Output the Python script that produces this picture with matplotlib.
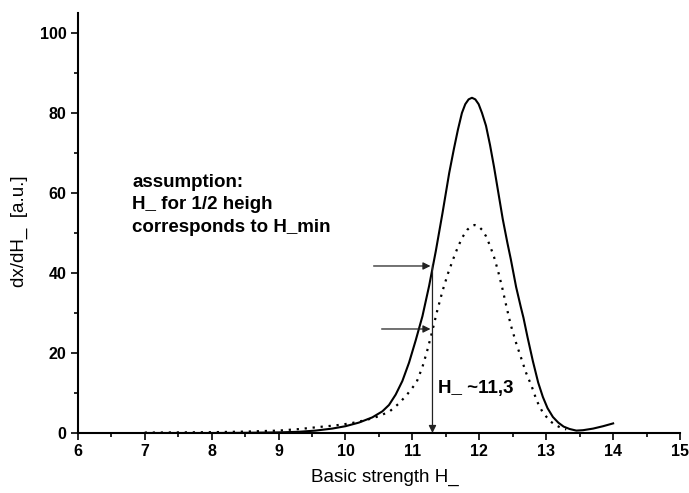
import matplotlib
matplotlib.use("Agg")
import matplotlib.pyplot as plt
from matplotlib.ticker import MultipleLocator

plt.rcParams['font.family'] = ['Liberation Sans', 'DejaVu Sans']

# solid curve
solid_x = [7.0, 8.0, 8.5, 9.0, 9.3, 9.55, 9.8, 10.0, 10.2, 10.4, 10.55, 10.65,
           10.75, 10.85, 10.95, 11.05, 11.15, 11.25, 11.35, 11.45, 11.55, 11.62,
           11.68, 11.74, 11.79, 11.84, 11.89, 11.94, 11.99, 12.04, 12.1, 12.16,
           12.22, 12.28, 12.35, 12.42, 12.47, 12.55, 12.62, 12.66, 12.72, 12.8,
           12.88, 12.95, 13.02, 13.1, 13.18, 13.26, 13.35, 13.45, 13.55, 13.7,
           13.85, 14.0]
solid_y = [0.0, 0.0, 0.05, 0.15, 0.3, 0.6, 1.1, 1.7, 2.6, 3.9, 5.4, 7.0,
           9.6, 13.0, 17.6, 23.2, 29.2, 36.8, 45.5, 55.0, 65.0, 71.0,
           75.8, 80.0, 82.2, 83.4, 83.8, 83.4, 82.2, 80.0, 76.8, 72.0,
           66.5, 60.5, 53.5, 47.5, 43.5, 36.5, 31.5, 28.8, 24.0, 18.0,
           12.6, 9.0, 6.2, 4.0, 2.6, 1.6, 1.0, 0.6, 0.7, 1.1,
           1.7, 2.4]

# dotted curve
dot_x = [7.0, 7.5, 8.0, 8.5, 9.0, 9.32, 9.6, 9.85, 10.07, 10.3, 10.5, 10.66,
         10.8, 10.92, 11.06, 11.15, 11.22, 11.29, 11.37, 11.45, 11.53, 11.61,
         11.68, 11.75, 11.82, 11.88, 11.93, 11.98, 12.04, 12.1, 12.16, 12.22,
         12.28, 12.34, 12.4, 12.47, 12.55, 12.63, 12.7, 12.78, 12.86, 12.94,
         13.0, 13.07, 13.15, 13.22, 13.3]
dot_y = [0.1, 0.15, 0.2, 0.35, 0.6, 1.0, 1.5, 1.9, 2.4, 3.2, 4.2, 5.4,
         7.4, 9.6, 12.6, 16.5, 20.5, 25.0, 30.5, 35.5, 39.8, 43.5,
         46.5, 49.0, 50.8, 51.7, 52.0, 51.8, 50.8, 49.2, 46.8, 44.0,
         40.5, 36.5, 32.0, 27.0, 22.5, 18.5, 15.0, 11.8, 8.0, 5.4,
         4.1, 2.8, 1.9, 1.3, 0.9]

x_ticks = [6, 7, 8, 9, 10, 11, 12, 13, 14, 15]
y_ticks = [0, 20, 40, 60, 80, 100]

fig = plt.figure(figsize=(6.89, 4.93), dpi=100)
ax = fig.add_axes([0.113, 0.1217, 0.874, 0.852])

ax.plot(solid_x, solid_y, color='black', lw=1.5, solid_joinstyle='round')
ax.plot(dot_x, dot_y, color='black', lw=1.6, linestyle=(0, (1, 2.6)))

ax.set_xlim(6, 15)
ax.set_ylim(0, 105)
ax.set_xticks(x_ticks)
ax.set_yticks(y_ticks)
ax.xaxis.set_minor_locator(MultipleLocator(0.5))
ax.yaxis.set_minor_locator(MultipleLocator(10))

for s in ['top', 'right']:
    ax.spines[s].set_visible(False)
for s in ['left', 'bottom']:
    ax.spines[s].set_linewidth(1.5)

ax.tick_params(which='major', direction='out', length=5, width=1.2, labelsize=11.5, pad=3)
ax.tick_params(which='minor', direction='out', length=2.8, width=1.2)
for lab in ax.get_xticklabels() + ax.get_yticklabels():
    lab.set_fontweight('bold')

ax.set_xlabel('Basic strength H_', fontsize=13.5)
ax.set_ylabel('dx/dH_  [a.u.]', fontsize=13.5)
ax.xaxis.set_label_coords(0.51, -0.085)
ax.yaxis.set_label_coords(-0.083, 0.48)

arrow_kw = dict(arrowstyle='-|>', color='#222222', lw=0.9, mutation_scale=11,
                shrinkA=0, shrinkB=0)
ax.annotate('', xy=(11.27, 41.75), xytext=(10.42, 41.75), arrowprops=arrow_kw)
ax.annotate('', xy=(11.27, 26), xytext=(10.54, 26), arrowprops=arrow_kw)
ax.annotate('', xy=(11.3, 0), xytext=(11.3, 42), arrowprops=arrow_kw)

ax.text(6.81, 61.5, 'assumption:', fontsize=13.5, fontweight='bold', va='baseline')
ax.text(6.81, 55.9, 'H_ for 1/2 heigh', fontsize=13.5, fontweight='bold', va='baseline')
ax.text(6.81, 50.25, 'corresponds to H_min', fontsize=13.5, fontweight='bold', va='baseline')
ax.text(11.38, 10, 'H_ ~11,3', fontsize=13.5, fontweight='bold', va='baseline')

fig.savefig('out.png', dpi=100)
